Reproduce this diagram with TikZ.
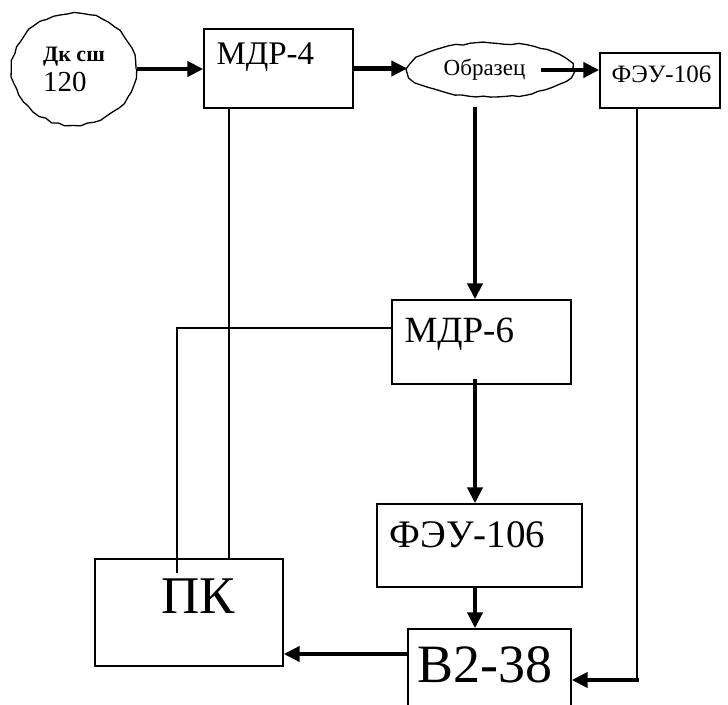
\documentclass[tikz,border=0pt]{standalone}
\usepackage{fontspec}
\setmainfont{Liberation Serif}
\usepackage{tikz}
\usetikzlibrary{arrows.meta,positioning,shapes.geometric,decorations.pathmorphing}

\begin{document}
\pgfmathsetseed{7}
\begin{tikzpicture}[x=1pt,y=1pt,
box/.style={draw,line width=1.4pt,inner sep=0pt},
blob/.style={draw,ellipse,line width=1.3pt,inner sep=0pt,decorate,decoration={random steps,segment length=7pt,amplitude=1.1pt}},
tag/.style={anchor=base west,inner sep=0pt},
flow/.style={line width=4.5pt,-{Triangle[length=16pt,width=15pt]}},
wire/.style={line width=1.6pt}]
\useasboundingbox (0,0) rectangle (728,-704);
% light path, top row
\node[blob,minimum width=124pt,minimum height=112pt,align=left,font=\fontsize{22}{30}\selectfont] (src) at (74,-69)
  {\textbf{Дк сш}\\{\fontsize{29}{30}\selectfont 120}};
\node[box,minimum width=149pt,minimum height=79pt,
  label={[tag,xshift=13pt,yshift=-36pt,font=\fontsize{33}{36}\selectfont]north west:МДР-4}] (mdr4) at (278.5,-68.5) {};
\node[blob,minimum width=165pt,minimum height=54pt,
  label={[anchor=center,inner sep=0pt,xshift=-6pt,font=\fontsize{23}{26}\selectfont]center:Образец}] (obr) at (490.5,-70) {};
\node[box,minimum width=120pt,minimum height=55pt,
  label={[tag,xshift=12pt,yshift=-30pt,font=\fontsize{25}{26}\selectfont]north west:ФЭУ-106}] (feu1) at (660,-80.5) {};
% measuring branch
\node[box,minimum width=179pt,minimum height=84pt,
  label={[tag,xshift=13pt,yshift=-43pt,font=\fontsize{37}{40}\selectfont]north west:МДР-6}] (mdr6) at (481.5,-342) {};
\node[box,minimum width=205pt,minimum height=83pt,
  label={[tag,xshift=13pt,yshift=-44pt,font=\fontsize{39}{40}\selectfont]north west:ФЭУ-106}] (feu2) at (479.5,-545.5) {};
\node[box,minimum width=188pt,minimum height=107pt,
  label={[tag,xshift=67pt,yshift=-55pt,font=\fontsize{53}{56}\selectfont]north west:ПК}] (pk) at (189,-612.5) {};
\node[box,minimum width=163pt,minimum height=91pt,
  label={[tag,xshift=10pt,yshift=-54pt,font=\fontsize{54}{56}\selectfont]north west:В2-38}] (b238) at (489.5,-674.5) {};
\coordinate (axis) at (475,0);
\coordinate (bend) at (637,-680);
% connectors
\draw[flow] (src.east) -- (src.east -| mdr4.west);
\draw[flow] (mdr4.east) -- (mdr4.east -| obr.west);
\draw[flow] ([xshift=-33pt]obr.east) -- (obr.east -| feu1.west);
\draw[flow] ([yshift=-9pt]obr.south -| axis) -- (mdr6.north -| axis);
\draw[flow] ([yshift=6pt]mdr6.south -| axis) -- (feu2.north -| axis);
\draw[flow] (feu2.south -| axis) -- (b238.north -| axis);
\draw[flow] ([yshift=20.5pt]b238.west) -- ([yshift=20.5pt]b238.west -| pk.east);
\draw[wire] (feu1.south -| bend) -- (bend);
\draw[flow] ([xshift=2pt]bend) -- (bend -| b238.east);
\draw[wire] ([xshift=-49.5pt]mdr4.south) -- ([xshift=-49.5pt]mdr4.south |- pk.north);
\draw[wire] ([yshift=14pt]mdr6.west) -| ([xshift=-12pt,yshift=-15pt]pk.north);
\end{tikzpicture}
\end{document}
